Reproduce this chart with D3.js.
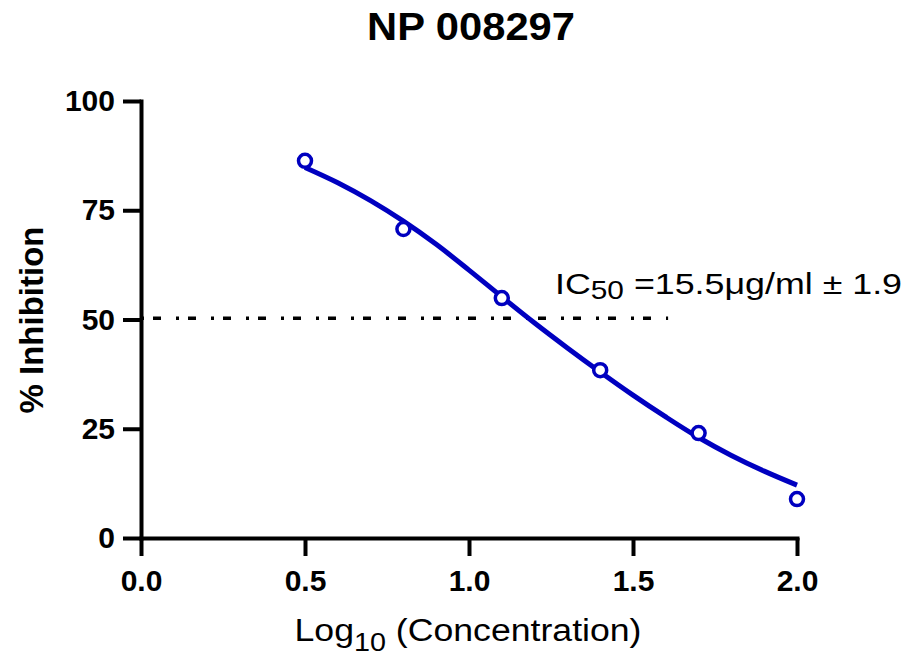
<!DOCTYPE html>
<html>
<head>
<meta charset="utf-8">
<script src="https://cdn.jsdelivr.net/npm/d3@7"></script>
<style>
  body { margin: 0; background: #fff; }
  text { font-family: "Liberation Sans", Arial, Helvetica, sans-serif; }
</style>
</head>
<body>
<svg id="drawing_region"></svg>
<script>
// measured points (log10 concentration, % inhibition)
const logConc = [0.5, 0.8, 1.1, 1.4, 1.7, 2.0];
const inhibition = [86.3, 70.7, 54.9, 38.4, 24.0, 8.9];

// fitted curve
const curveX = [0.5, 0.6, 0.7, 0.8, 0.9, 1.0, 1.1, 1.2, 1.3, 1.4, 1.5, 1.6, 1.7, 1.8, 1.9, 2.0];
const curveY = [84.8, 81.3, 77.2, 72.5, 67.2, 61.3, 55.2, 49.2, 43.5, 38.0, 32.7, 27.7, 23.0, 18.9, 15.3, 12.1];

// IC50 reference line
const refLineX = [0.0, 1.607];
const refLineY = 50.3;

const xTicks = [0.0, 0.5, 1.0, 1.5, 2.0];
const yTicks = [0, 25, 50, 75, 100];

const chartTitle = "NP 008297";

const config = {
    parent: '#drawing_region',
    width: 909,
    height: 660
};

const blue = '#0000c0';

const svg = d3.select(config.parent)
    .attr('width', config.width)
    .attr('height', config.height);

const xScale = d3.scaleLinear().domain([0, 2]).range([141, 797]);
const yScale = d3.scaleLinear().domain([0, 100]).range([538, 101]);

// axes
const xAxis = d3.axisBottom(xScale)
    .tickValues(xTicks)
    .tickFormat(d3.format('.1f'))
    .tickSize(18)
    .tickSizeOuter(0)
    .tickPadding(14);

const yAxis = d3.axisLeft(yScale)
    .tickValues(yTicks)
    .tickSize(18)
    .tickSizeOuter(0)
    .tickPadding(8);

const gx = svg.append('g')
    .attr('transform', `translate(0, ${yScale(0)})`)
    .call(xAxis);

const gy = svg.append('g')
    .attr('transform', `translate(${xScale(0)}, 0)`)
    .call(yAxis);

[gx, gy].forEach(g => {
    g.select('.domain').attr('stroke', '#000').attr('stroke-width', 4).attr('stroke-linecap', 'square');
    g.selectAll('.tick line').attr('stroke', '#000').attr('stroke-width', 4);
    g.selectAll('.tick text')
        .attr('fill', '#000')
        .style('font-family', '"Liberation Sans", Arial, sans-serif')
        .style('font-size', '30px')
        .style('font-weight', 'bold');
});

// dash-dot line at IC50
svg.append('line')
    .attr('x1', xScale(refLineX[0]))
    .attr('x2', xScale(refLineX[1]))
    .attr('y1', yScale(refLineY))
    .attr('y2', yScale(refLineY))
    .attr('stroke', '#000')
    .attr('stroke-width', 3.5)
    .attr('stroke-dasharray', '3,9,8,15');

// fitted curve
const curveData = curveX.map((x, i) => ({ x: x, y: curveY[i] }));
const line = d3.line()
    .x(d => xScale(d.x))
    .y(d => yScale(d.y))
    .curve(d3.curveCatmullRom);

svg.append('path')
    .datum(curveData)
    .attr('d', line)
    .attr('fill', 'none')
    .attr('stroke', blue)
    .attr('stroke-width', 5);

// data points
const points = logConc.map((x, i) => ({ x: x, y: inhibition[i] }));
svg.selectAll('.pt')
    .data(points)
    .enter()
    .append('circle')
    .attr('class', 'pt')
    .attr('cx', d => xScale(d.x))
    .attr('cy', d => yScale(d.y))
    .attr('r', 6.5)
    .attr('fill', '#fff')
    .attr('stroke', blue)
    .attr('stroke-width', 3.5);

// title
svg.append('text')
    .attr('x', 471)
    .attr('y', 40)
    .attr('text-anchor', 'middle')
    .attr('textLength', 208)
    .attr('lengthAdjust', 'spacingAndGlyphs')
    .style('font-size', '38px')
    .style('font-weight', 'bold')
    .text(chartTitle);

// y axis title
svg.append('text')
    .attr('transform', 'translate(43, 320) rotate(-90)')
    .attr('text-anchor', 'middle')
    .style('font-size', '33px')
    .style('font-weight', 'bold')
    .text('% Inhibition');

// x axis title with subscript
const xt = svg.append('text')
    .attr('x', 468)
    .attr('y', 641)
    .attr('text-anchor', 'middle')
    .attr('textLength', 347)
    .attr('lengthAdjust', 'spacingAndGlyphs')
    .style('font-size', '31px');
xt.append('tspan').text('Log');
xt.append('tspan').attr('dy', 10).style('font-size', '25px').text('10');
xt.append('tspan').attr('dy', -10).text(' (Concentration)');

// IC50 annotation
const ann = svg.append('text')
    .attr('x', 555)
    .attr('y', 294)
    .attr('textLength', 347)
    .attr('lengthAdjust', 'spacingAndGlyphs')
    .style('font-size', '30px');
ann.append('tspan').text('IC');
ann.append('tspan').attr('dy', 5).style('font-size', '25px').text('50');
ann.append('tspan').attr('dy', -5).text(' =15.5\u03bcg/ml \u00b1 1.9');
</script>
</body>
</html>
